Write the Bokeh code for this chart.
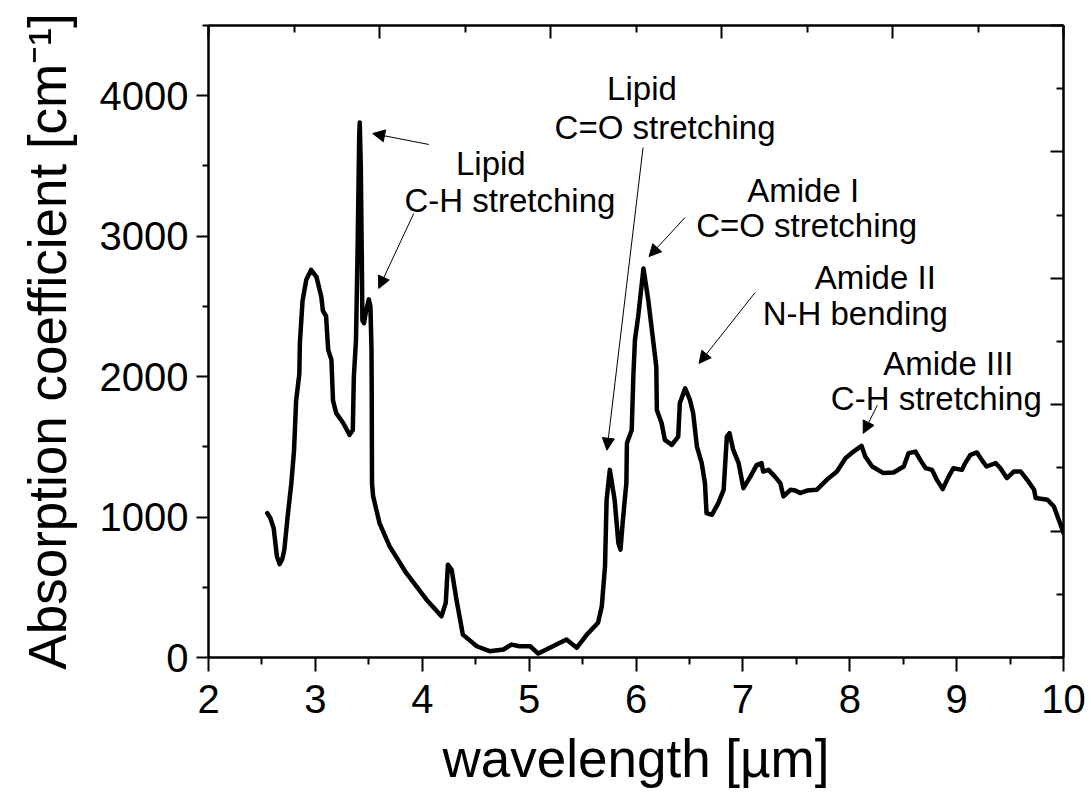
from bokeh.plotting import figure
from bokeh.models import (ColumnDataSource, LinearAxis, FixedTicker, Arrow, NormalHead,
                          Range1d, CustomLabelingPolicy)
from bokeh.core.properties import value
from bokeh.embed import file_html
from bokeh.resources import INLINE

# ---- data ----
wavelength = [2.55, 2.58, 2.61, 2.64, 2.665, 2.69, 2.71, 2.74, 2.775, 2.80, 2.82, 2.85, 2.855,
              2.88, 2.915, 2.96, 3.01, 3.055, 3.07, 3.10, 3.12, 3.15, 3.165, 3.195, 3.26, 3.32,
              3.35, 3.36, 3.38, 3.395, 3.41, 3.415, 3.425, 3.435, 3.44, 3.455, 3.47, 3.50, 3.515,
              3.525, 3.527, 3.53, 3.54, 3.60, 3.695, 3.85, 4.04, 4.18, 4.22, 4.24, 4.275, 4.32,
              4.38, 4.51, 4.63, 4.76, 4.835, 4.91, 5.01, 5.085, 5.195, 5.35, 5.445, 5.54, 5.645,
              5.68, 5.71, 5.725, 5.755, 5.80, 5.835, 5.855, 5.875, 5.895, 5.91, 5.915, 5.96, 5.975,
              5.99, 6.02, 6.07, 6.115, 6.16, 6.19, 6.195, 6.24, 6.27, 6.335, 6.395, 6.41, 6.46,
              6.505, 6.535, 6.57, 6.615, 6.645, 6.66, 6.71, 6.77, 6.82, 6.85, 6.875, 6.91, 6.96,
              7.005, 7.07, 7.13, 7.175, 7.19, 7.24, 7.30, 7.35, 7.38, 7.445, 7.49, 7.535, 7.60,
              7.69, 7.785, 7.88, 7.96, 8.035, 8.11, 8.145, 8.21, 8.315, 8.41, 8.505, 8.55, 8.615,
              8.66, 8.71, 8.77, 8.815, 8.87, 8.925, 8.97, 9.05, 9.08, 9.13, 9.19, 9.235, 9.28,
              9.365, 9.41, 9.47, 9.535, 9.60, 9.66, 9.725, 9.74, 9.85, 9.91, 9.99, 10.0]
absorption = [1028, 990, 920, 720, 665, 700, 770, 1000, 1240, 1470, 1830, 2020, 2240,
              2540, 2690, 2760, 2710, 2570, 2470, 2430, 2190, 2120, 1830, 1740, 1670, 1585,
              1620, 2000, 2260, 2900, 3700, 3810, 3500, 2800, 2400, 2380, 2450, 2550, 2500,
              2200, 1950, 1240, 1150, 957, 791, 602, 412, 294, 389, 661, 625, 412,
              163, 80, 45, 57, 92, 80, 80, 28, 69, 128, 69, 163, 247,
              365, 649, 1123, 1336, 1123, 815, 768, 957, 1123, 1242, 1526, 1620, 1999,
              2260, 2426, 2770, 2544, 2260, 2070, 1763, 1668, 1549, 1514, 1573, 1810, 1917,
              1834, 1739, 1502, 1384, 1242, 1028, 1016, 1099, 1194, 1573, 1597, 1478, 1384,
              1206, 1288, 1372, 1384, 1324, 1336, 1288, 1242, 1147, 1194, 1189, 1171, 1189,
              1194, 1265, 1324, 1419, 1466, 1507, 1431, 1360, 1313, 1317, 1360, 1455, 1466,
              1407, 1348, 1336, 1265, 1199, 1288, 1348, 1336, 1384, 1443, 1460, 1407, 1360,
              1384, 1348, 1277, 1324, 1324, 1265, 1194, 1135, 1123, 1075, 910, 885]

# annotation text lines (text, x in µm, y in cm^-1 baseline)
label_text = ["Lipid", "C-H stretching", "Lipid", "C=O stretching", "Amide I", "C=O stretching",
              "Amide II", "N-H bending", "Amide III", "C-H stretching"]
label_x = [4.642, 4.820, 6.056, 6.272, 7.564, 7.597, 8.239, 8.052, 8.923, 8.810]
label_y = [3517, 3254, 4050, 3773, 3325, 3076, 2706, 2450, 2095, 1846]

# arrows (tail -> head)
arrow_x0 = [4.061, 3.920, 6.066, 6.459, 7.115, 8.258]
arrow_y0 = [3653, 3161, 3631, 3133, 2599, 1796]
arrow_x1 = [3.536, 3.593, 5.728, 6.122, 6.590, 8.126]
arrow_y1 = [3731, 2628, 1476, 2855, 2094, 1596]

FONT = "Liberation Sans"

p = figure(width=1091, height=794, output_backend="svg", toolbar_location=None,
           x_range=Range1d(2, 10), y_range=Range1d(0, 4500),
           min_border_left=208, min_border_right=28, min_border_top=25, min_border_bottom=137)
p.background_fill_color = "white"
p.border_fill_color = "white"
p.outline_line_color = "black"
p.outline_line_width = 2
p.xgrid.visible = False
p.ygrid.visible = False

# bottom / left axes
xa = p.xaxis[0]
xa.ticker = FixedTicker(ticks=[2, 3, 4, 5, 6, 7, 8, 9, 10],
                        minor_ticks=[2.5, 3.5, 4.5, 5.5, 6.5, 7.5, 8.5, 9.5])
xa.axis_label = "wavelength [µm]"
ya = p.yaxis[0]
ya.ticker = FixedTicker(ticks=[0, 1000, 2000, 3000, 4000],
                        minor_ticks=[500, 1500, 2500, 3500, 4500])
ya.axis_label = "Absorption coefficient [cm⁻¹]"

for ax, tout, mout in ((xa, 14, 7), (ya, 12, 6)):
    ax.axis_line_width = 2
    ax.axis_line_color = "black"
    ax.major_tick_line_width = 2
    ax.minor_tick_line_width = 2
    ax.major_tick_out = tout
    ax.major_tick_in = 0
    ax.minor_tick_out = mout
    ax.minor_tick_in = 0
    ax.major_label_text_font = FONT
    ax.major_label_text_font_size = "40px"
    ax.major_label_text_color = "black"
    ax.axis_label_text_font = FONT
    ax.axis_label_text_font_size = "53px"
    ax.axis_label_text_font_style = "normal"
    ax.axis_label_text_color = "black"
xa.major_label_standoff = 13
xa.axis_label_standoff = 13
ya.major_label_standoff = 8
ya.axis_label_standoff = 20
ya.major_label_orientation = "horizontal"

# mirrored top and right axes with inward ticks and no labels
no_labels = CustomLabelingPolicy(code="""
try { for (const i of Array.from(indices)) { indices.unset(i) } } catch (e) {}
return indices
""")
top = LinearAxis(ticker=FixedTicker(ticks=[2.0, 3.6, 5.2, 6.8, 8.4, 10.0],
                                    minor_ticks=[2.8, 4.4, 6.0, 7.6, 9.2]))
right = LinearAxis(ticker=FixedTicker(ticks=[0, 900, 1800, 2700, 3600, 4500],
                                      minor_ticks=[450, 1350, 2250, 3150, 4050]))
for ax in (top, right):
    ax.axis_line_width = 2
    ax.major_tick_line_width = 2
    ax.minor_tick_line_width = 2
    ax.major_tick_in = 13
    ax.major_tick_out = 0
    ax.minor_tick_in = 7
    ax.minor_tick_out = 0
    ax.major_label_text_font_size = "0px"
    ax.major_label_standoff = 0
    ax.major_label_policy = no_labels
p.add_layout(top, "above")
p.add_layout(right, "right")

# spectrum
src = ColumnDataSource(dict(x=wavelength, y=absorption))
p.line("x", "y", source=src, line_color="black", line_width=4.5, line_join="round",
       line_cap="round")

# annotation arrows
asrc = ColumnDataSource(dict(x0=arrow_x0, y0=arrow_y0, x1=arrow_x1, y1=arrow_y1))
p.add_layout(Arrow(end=NormalHead(size=12, line_color="black", fill_color="black",
                                  line_width=1),
                   x_start="x0", y_start="y0", x_end="x1", y_end="y1",
                   line_color="black", line_width=1, source=asrc))

# annotation texts
tsrc = ColumnDataSource(dict(x=label_x, y=label_y, t=label_text))
p.text("x", "y", text="t", source=tsrc, text_font=value(FONT), text_font_size="33px",
       text_align="center", text_baseline="alphabetic", text_color="black")

open("out.html", "w").write(file_html(p, INLINE))
